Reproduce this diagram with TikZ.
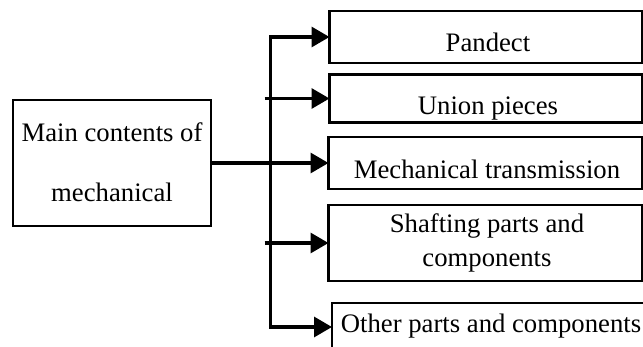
\documentclass[tikz,border=0pt]{standalone}
\usepackage{fontspec}
\setmainfont{Liberation Serif}
\usetikzlibrary{arrows.meta}
\begin{document}
\begin{tikzpicture}[x=1pt,y=-1pt,
  >={Triangle[length=18pt,width=20pt]},
  box/.style={draw, line width=2.3pt, rectangle, inner sep=0pt, outer sep=0pt},
  txt/.style={anchor=base, inner sep=0pt, font=\fontsize{26.7pt}{30pt}\selectfont},
  conn/.style={line width=3.2pt, line join=miter}]
\useasboundingbox (0,0) rectangle (643,347);
\clip (0,0) rectangle (643,347);
\fill[white] (0,0) rectangle (643,347);

% source box
\node[box, minimum width=198pt, minimum height=126pt] (main) at (112,163) {};
\node[txt] (mainA) at (112,142) {Main contents of};
\node[txt] (mainB) at (112,202) {mechanical};

% target boxes
\node[box, minimum width=312.5pt, minimum height=52pt] (b1) at (485.75,37) {};
\node[box, minimum width=312.5pt, minimum height=48pt] (b2) at (485.75,98.5) {};
\node[box, minimum width=313.5pt, minimum height=52pt] (b3) at (485.25,163) {};
\node[box, minimum width=313.5pt, minimum height=76pt] (b4) at (485.25,243) {};
\node[box, minimum width=323pt, minimum height=48pt] (b5) at (493.5,327) {};

\node[txt] (l1) at (488,52) {Pandect};
\node[txt] (l2) at (488,115) {Union pieces};
\node[txt] (l3) at (487,179) {Mechanical transmission};
\node[txt] (l4a) at (487,233) {Shafting parts and};
\node[txt] (l4b) at (487,267) {components};
\node[txt] (l5) at (491,333) {Other parts and components};

% connectors
\coordinate (trunk) at (270.5,0);
\draw[conn, <->] (b1.west) -- (trunk |- b1.west) -- (trunk |- b5.west) -- (b5.west);
\draw[conn, ->] ([xshift=-6pt]trunk |- b2.west) -- (b2.west);
\draw[conn, ->] (main.east) -- (b3.west);
\draw[conn, ->] ([xshift=-6pt]trunk |- b4.west) -- (b4.west);
\end{tikzpicture}
\end{document}
